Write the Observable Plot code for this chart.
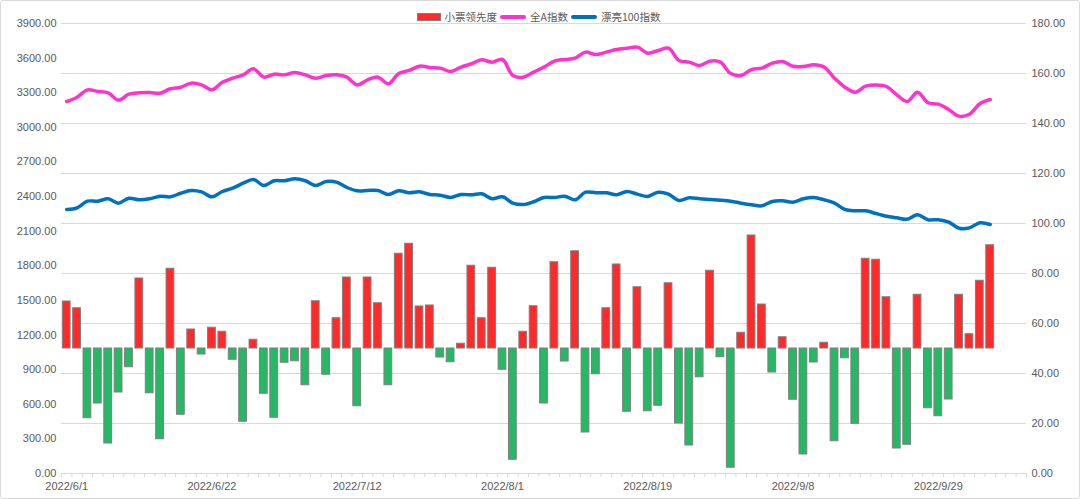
<!DOCTYPE html>
<html><head><meta charset="utf-8">
<script src="https://cdn.jsdelivr.net/npm/d3@7"></script>
<script src="https://cdn.jsdelivr.net/npm/@observablehq/plot@0.6"></script>
<style>
body{margin:0;background:#fff;}
#wrap{position:relative;width:1080px;height:499px;overflow:hidden;}
#frame{position:absolute;left:0;top:0;width:1078px;height:497px;border:1px solid #d9d9d9;border-radius:3px;pointer-events:none;}
#legend{position:absolute;top:9px;left:0;width:1080px;display:flex;justify-content:center;align-items:center;font:10.5px "Noto Sans CJK SC",sans-serif;color:#595959;line-height:16px;}
.sw{display:inline-block;margin-right:4px;}
.item{display:flex;align-items:center;margin-right:3px;}
</style>
</head><body>
<div id="wrap">
<div id="chart"></div>
<div id="legend"></div>
<div id="frame"></div>
</div>
<script>
const dates = ["2022/6/1","2022/6/2","2022/6/6","2022/6/7","2022/6/8","2022/6/9","2022/6/10","2022/6/13","2022/6/14","2022/6/15","2022/6/16","2022/6/17","2022/6/20","2022/6/21","2022/6/22","2022/6/23","2022/6/24","2022/6/27","2022/6/28","2022/6/29","2022/6/30",
"2022/7/1","2022/7/4","2022/7/5","2022/7/6","2022/7/7","2022/7/8","2022/7/11","2022/7/12","2022/7/13","2022/7/14","2022/7/15","2022/7/18","2022/7/19","2022/7/20","2022/7/21","2022/7/22","2022/7/25","2022/7/26","2022/7/27","2022/7/28","2022/7/29",
"2022/8/1","2022/8/2","2022/8/3","2022/8/4","2022/8/5","2022/8/8","2022/8/9","2022/8/10","2022/8/11","2022/8/12","2022/8/15","2022/8/16","2022/8/17","2022/8/18","2022/8/19","2022/8/22","2022/8/23","2022/8/24","2022/8/25","2022/8/26","2022/8/29","2022/8/30","2022/8/31",
"2022/9/1","2022/9/2","2022/9/5","2022/9/6","2022/9/7","2022/9/8","2022/9/9","2022/9/13","2022/9/14","2022/9/15","2022/9/16","2022/9/19","2022/9/20","2022/9/21","2022/9/22","2022/9/23","2022/9/26","2022/9/27","2022/9/28","2022/9/29","2022/9/30",
"2022/10/10","2022/10/11","2022/10/12","2022/10/13","2022/10/14","2022/10/17","2022/10/18"];

// 小票领先度 (right axis, baseline 50)
const leadValues = [68.8,66.1,22.1,28.0,12.0,32.4,42.5,78.0,32.1,13.7,81.9,23.5,57.6,47.6,58.3,56.7,45.5,20.7,53.5,31.9,22.3,44.3,44.9,
35.3,68.9,39.5,62.1,78.4,26.9,78.4,68.1,35.3,87.9,91.9,66.8,67.2,46.4,44.5,51.9,83.1,62.1,82.3,41.5,5.5,56.7,66.9,
28.0,84.5,44.8,88.9,16.4,39.7,66.1,83.6,24.7,74.5,24.9,27.1,76.1,20.0,11.2,38.5,81.1,46.5,2.3,56.3,95.2,67.6,40.4,
54.5,29.5,7.6,44.4,52.3,12.9,46.1,19.9,85.9,85.5,70.5,10.0,11.5,71.5,26.1,22.9,29.6,71.5,55.7,77.1,91.3];

// 全A指数 (left axis)
const allAValues = [3224,3261,3325,3311,3299,3236,3288,3299,3302,3296,3334,3348,3383,3368,3325,3391,3426,3455,3507,3435,3461,3455,3476,
3455,3426,3449,3455,3435,3368,3412,3435,3377,3466,3493,3530,3519,3513,3484,3522,3551,3585,3565,3588,3449,3435,3478,
3522,3574,3588,3600,3652,3631,3652,3675,3686,3695,3643,3666,3686,3579,3565,3536,3574,3565,3466,3449,3501,3513,3556,
3571,3530,3527,3542,3522,3426,3348,3305,3357,3368,3354,3282,3224,3305,3213,3201,3155,3097,3114,3204,3241];

// 漂亮100指数 (left axis)
const pretty100Values = [2288,2303,2360,2360,2381,2343,2386,2372,2381,2403,2398,2429,2453,2441,2398,2444,2473,2516,2548,2496,2537,2537,2554,
2537,2496,2531,2525,2479,2450,2453,2453,2418,2450,2433,2441,2418,2412,2392,2418,2415,2424,2381,2398,2343,2331,2355,
2392,2392,2403,2372,2438,2433,2433,2415,2444,2421,2401,2438,2421,2366,2389,2381,2375,2369,2360,2343,2329,2320,2358,
2363,2351,2381,2392,2372,2343,2288,2277,2277,2253,2230,2216,2204,2242,2199,2199,2178,2126,2129,2173,2158];

const leftTicks = d3.range(0, 3901, 300);
const rightTicks = d3.range(0, 181, 20);
const k = 3900 / 180; // right-axis units -> left-axis units

const table = leadValues.map((v, i) => ({
  date: dates[i], lead: v, allA: allAValues[i], pretty: pretty100Values[i]
}));

const W = 1080, ML = 61, MR = 54;
const step = (W - ML - MR) / dates.length;
const gray = "#595959";
const chart = Plot.plot({
  width: W, height: 499,
  marginLeft: ML, marginRight: MR, marginTop: 23, marginBottom: 26,
  style: {fontFamily: "'Liberation Sans', Arial, sans-serif", fontSize: "11px", color: gray, background: "white"},
  x: {type: "band", domain: dates, paddingInner: 0.25, paddingOuter: 0.125, round: false},
  y: {domain: [0, 3900]},
  marks: [
    Plot.gridY(rightTicks.map(v => v * k), {stroke: "#d9d9d9", strokeOpacity: 1, strokeWidth: 1}),
    Plot.axisY({ticks: leftTicks, tickFormat: d => d.toFixed(2), tickSize: 0, tickPadding: 5, fill: gray, label: null}),
    Plot.axisY({anchor: "right", ticks: rightTicks.map(v => v * k), tickFormat: d => (d / k).toFixed(2), tickSize: 0, tickPadding: 5, fill: gray, label: null}),
    Plot.barY(table, {x: "date", y1: 50 * k, y2: d => d.lead * k,
      fill: d => d.lead >= 50 ? "#ff2a2a" : "#27b865", stroke: "#7f7f7f", strokeWidth: 1}),
    Plot.ruleY([0], {stroke: "#d9d9d9"}),
    // tick marks at category boundaries
    Plot.axisX({ticks: dates, tickFormat: () => "", tickSize: 4, dx: -step / 2, stroke: "#d9d9d9", label: null}),
    Plot.axisX({ticks: [dates[dates.length - 1]], tickFormat: () => "", tickSize: 4, dx: step / 2, stroke: "#d9d9d9", label: null}),
    // labels every 14 trading days
    Plot.axisX({ticks: dates.filter((d, i) => i % 14 === 0), tickSize: 0, tickPadding: 9, fill: gray, label: null}),
    Plot.line(table, {x: "date", y: "allA", stroke: "#ff33cc", strokeWidth: 3.5, curve: "catmull-rom"}),
    Plot.line(table, {x: "date", y: "pretty", stroke: "#0070c0", strokeWidth: 3.5, curve: "catmull-rom"})
  ]
});
document.getElementById("chart").appendChild(chart);

const legendItems = [
  {name: "小票领先度", type: "rect", color: "#ff2a2a"},
  {name: "全A指数", type: "line", color: "#ff33cc"},
  {name: "漂亮100指数", type: "line", color: "#0070c0"}
];
const lg = document.getElementById("legend");
for (const it of legendItems) {
  const item = document.createElement("span");
  item.className = "item";
  const sw = document.createElement("span");
  sw.className = "sw";
  if (it.type === "rect") {
    sw.style.cssText = `width:22px;height:6px;background:${it.color};border:1px solid #7f7f7f;`;
  } else {
    sw.style.cssText = `width:26px;height:4px;background:${it.color};border-radius:2px;`;
  }
  const tx = document.createElement("span");
  tx.textContent = it.name;
  item.appendChild(sw); item.appendChild(tx);
  lg.appendChild(item);
}
</script>
</body></html>
